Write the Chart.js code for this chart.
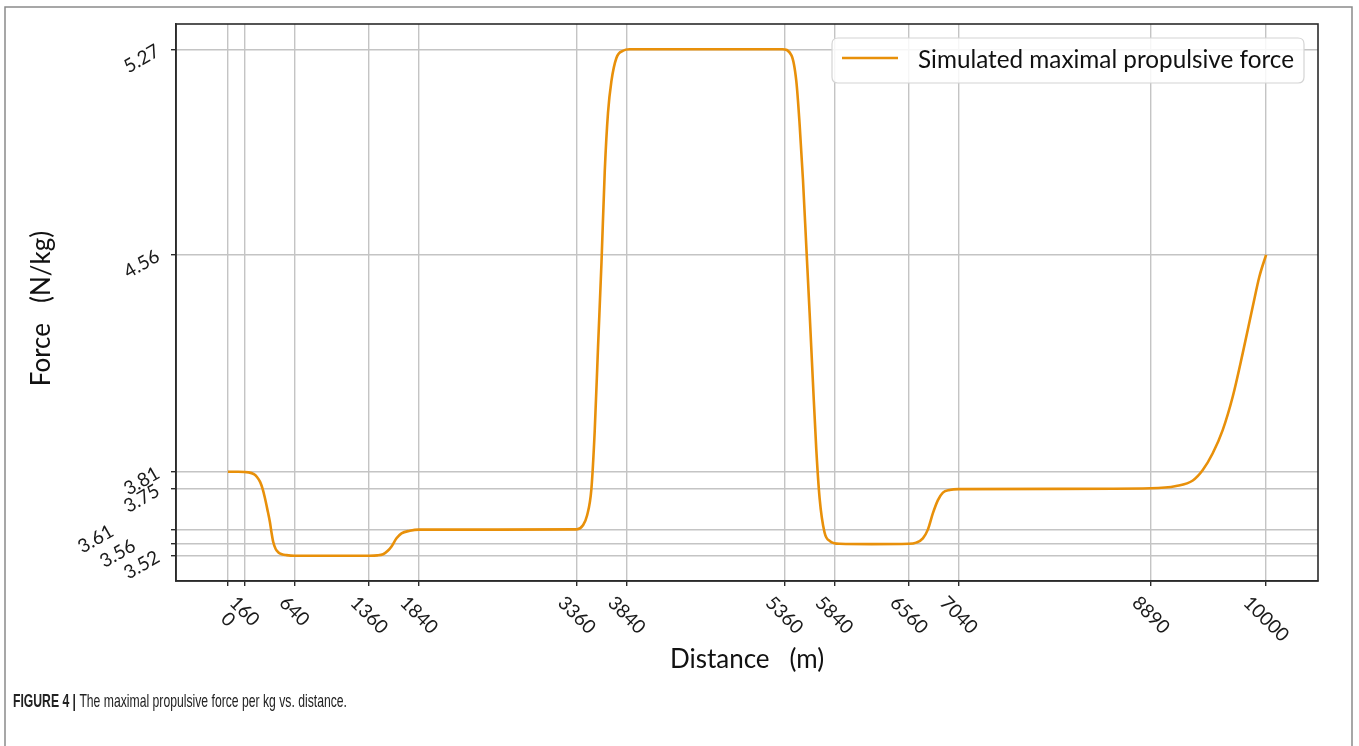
<!DOCTYPE html>
<html><head><meta charset="utf-8">
<script src="https://cdn.jsdelivr.net/npm/chart.js@4.4.0/dist/chart.umd.min.js"></script>
<style>
html,body{margin:0;padding:0;background:#fff;overflow:hidden}
canvas{display:block}
</style></head><body>
<canvas id="c" width="1359" height="746"></canvas>
<script>
// ---- data ----
const distance = [0,100,200,250,280,310,335,356,380,404,420,436,460,484,520,565,640,1000,1360,1440,1495,1540,1576,1624,1672,1752,1840,2600,3360,3420,3460,3501,3533,3565,3598,3630,3661,3694,3742,3806,3870,4600,5340,5427,5475,5507,5539,5571,5603,5635,5667,5699,5747,5800,5892,6200,6560,6630,6694,6742,6790,6839,6887,6951,7040,8000,8890,9134,9294,9390,9486,9582,9679,9775,9871,9935,10000];
const force = [3.81,3.81,3.808,3.802,3.792,3.775,3.75,3.72,3.68,3.637,3.60,3.568,3.543,3.532,3.525,3.522,3.52,3.52,3.52,3.521,3.525,3.537,3.552,3.58,3.597,3.606,3.61,3.61,3.611,3.625,3.66,3.75,3.95,4.24,4.53,4.85,5.05,5.16,5.24,5.265,5.27,5.27,5.27,5.25,5.16,5.01,4.82,4.59,4.36,4.12,3.89,3.72,3.60,3.57,3.561,3.56,3.561,3.565,3.58,3.61,3.666,3.712,3.738,3.747,3.75,3.751,3.753,3.761,3.78,3.816,3.874,3.954,4.07,4.22,4.38,4.484,4.56];
const xTicks = [0,160,640,1360,1840,3360,3840,5360,5840,6560,7040,8890,10000];
const yTicks = [3.52,3.56,3.61,3.75,3.81,4.56,5.27];
const seriesLabel = 'Simulated maximal propulsive force';
const xTitle = 'Distance   (m)';
const yTitle = 'Force   (N/kg)';
const captionBold = 'FIGURE 4 | ';
const captionText = 'The maximal propulsive force per kg vs. distance.';

// ---- styling ----
const LINE_COLOR = '#e8900a';
const FONT = 'Lato, "Open Sans", "DejaVu Sans", sans-serif';
const CAP_FONT = '"Liberation Sans Narrow", "Liberation Sans", Arial, sans-serif';
const xLabelShift = {0: 16};
const yLabelShift = {3.61: -46, 3.56: -24};

const decor = {
  id: 'decor',
  beforeDraw(chart) {
    const ctx = chart.ctx;
    ctx.save();
    ctx.fillStyle = '#fff';
    ctx.fillRect(0, 0, chart.width, chart.height);
    ctx.restore();
  },
  afterDatasetsDraw(chart) {
    const ctx = chart.ctx, a = chart.chartArea;
    ctx.save();
    ctx.strokeStyle = '#2b2b2b';
    ctx.lineWidth = 1.6;
    ctx.strokeRect(a.left, a.top, a.right - a.left, a.bottom - a.top);
    ctx.restore();
  },
  afterDraw(chart) {
    const ctx = chart.ctx, a = chart.chartArea;
    const xs = chart.scales.x, ys = chart.scales.y;
    ctx.save();
    ctx.fillStyle = '#1a1a1a';
    ctx.font = '19px ' + FONT;
    xTicks.forEach(v => {
      const t = String(v);
      const w = ctx.measureText(t).width, h = 13;
      const bh = (w + h) * Math.SQRT1_2;
      const px = xs.getPixelForValue(v);
      const py = a.bottom + 14 + bh / 2 + (xLabelShift[v] || 0);
      ctx.save();
      ctx.translate(px, py);
      ctx.rotate(Math.PI / 4);
      ctx.textAlign = 'center';
      ctx.textBaseline = 'middle';
      ctx.fillText(t, 0, 0);
      ctx.restore();
    });
    yTicks.forEach(v => {
      const t = v.toFixed(2);
      const py = ys.getPixelForValue(v);
      const px = a.left - 18 + (yLabelShift[v] || 0);
      ctx.save();
      ctx.translate(px, py);
      ctx.rotate(-Math.PI / 6);
      ctx.textAlign = 'right';
      ctx.textBaseline = 'middle';
      ctx.fillText(t, 0, 0);
      ctx.restore();
    });
    ctx.fillStyle = '#111';
    ctx.font = '26px ' + FONT;
    ctx.textAlign = 'center';
    ctx.textBaseline = 'middle';
    ctx.fillText(xTitle, (a.left + a.right) / 2, 660);
    ctx.save();
    ctx.translate(42, (a.top + a.bottom) / 2 + 6);
    ctx.rotate(-Math.PI / 2);
    ctx.fillText(yTitle, 0, 0);
    ctx.restore();
    // legend
    const ds = chart.data.datasets[0];
    const lx = 832, ly = 38, lw = 472, lh = 45, r = 6;
    ctx.beginPath();
    ctx.moveTo(lx + r, ly);
    ctx.lineTo(lx + lw - r, ly); ctx.quadraticCurveTo(lx + lw, ly, lx + lw, ly + r);
    ctx.lineTo(lx + lw, ly + lh - r); ctx.quadraticCurveTo(lx + lw, ly + lh, lx + lw - r, ly + lh);
    ctx.lineTo(lx + r, ly + lh); ctx.quadraticCurveTo(lx, ly + lh, lx, ly + lh - r);
    ctx.lineTo(lx, ly + r); ctx.quadraticCurveTo(lx, ly, lx + r, ly);
    ctx.closePath();
    ctx.fillStyle = 'rgba(255,255,255,0.85)';
    ctx.fill();
    ctx.strokeStyle = '#d4d4d4';
    ctx.lineWidth = 1.2;
    ctx.stroke();
    ctx.beginPath();
    ctx.moveTo(842, 58); ctx.lineTo(898, 58);
    ctx.strokeStyle = ds.borderColor; ctx.lineWidth = 2.5; ctx.stroke();
    ctx.fillStyle = '#111';
    ctx.font = '25px ' + FONT;
    ctx.textAlign = 'left';
    ctx.textBaseline = 'middle';
    ctx.fillText(ds.label, 918, 60, 376);
    // caption
    ctx.textBaseline = 'alphabetic';
    ctx.font = 'bold 19px ' + CAP_FONT;
    const wb = ctx.measureText(captionBold).width;
    ctx.font = '19px ' + CAP_FONT;
    const wn = ctx.measureText(captionText).width;
    const sx = 334 / (wb + wn);
    ctx.save();
    ctx.translate(13, 707);
    ctx.scale(sx, 1);
    ctx.fillStyle = '#222';
    ctx.font = 'bold 19px ' + CAP_FONT;
    ctx.fillText(captionBold, 0, 0);
    ctx.font = '19px ' + CAP_FONT;
    ctx.fillText(captionText, wb, 0);
    ctx.restore();
    ctx.strokeStyle = '#8a8a8a';
    ctx.lineWidth = 1.5;
    ctx.strokeRect(5, 7, 1347, 760);
    ctx.restore();
  }
};

new Chart(document.getElementById('c'), {
  type: 'line',
  data: {
    datasets: [{
      label: seriesLabel,
      data: distance.map((d, i) => ({x: d, y: force[i]})),
      borderColor: LINE_COLOR,
      borderWidth: 2.6,
      pointRadius: 0,
      fill: false,
      cubicInterpolationMode: 'monotone'
    }]
  },
  options: {
    responsive: false,
    animation: false,
    devicePixelRatio: 1,
    layout: {padding: {top: 24, right: 41, left: 0, bottom: 0}},
    plugins: {legend: {display: false}, tooltip: {enabled: false}},
    scales: {
      x: {
        type: 'linear', min: -500, max: 10500,
        afterBuildTicks: s => { s.ticks = xTicks.map(v => ({value: v})); },
        afterFit: s => { s.height = 165; },
        ticks: {display: false},
        grid: {color: '#c4c4c4', lineWidth: 1.4, drawTicks: true, tickLength: 5, tickColor: '#2b2b2b', tickWidth: 1.4},
        border: {display: true, color: '#2b2b2b', width: 1.6}
      },
      y: {
        type: 'linear', min: 3.4325, max: 5.3575,
        afterBuildTicks: s => { s.ticks = yTicks.map(v => ({value: v})); },
        afterFit: s => { s.width = 176; },
        ticks: {display: false},
        grid: {color: '#c4c4c4', lineWidth: 1.4, drawTicks: true, tickLength: 5, tickColor: '#2b2b2b', tickWidth: 1.4},
        border: {display: true, color: '#2b2b2b', width: 1.6}
      }
    }
  },
  plugins: [decor]
});
</script>
</body></html>
